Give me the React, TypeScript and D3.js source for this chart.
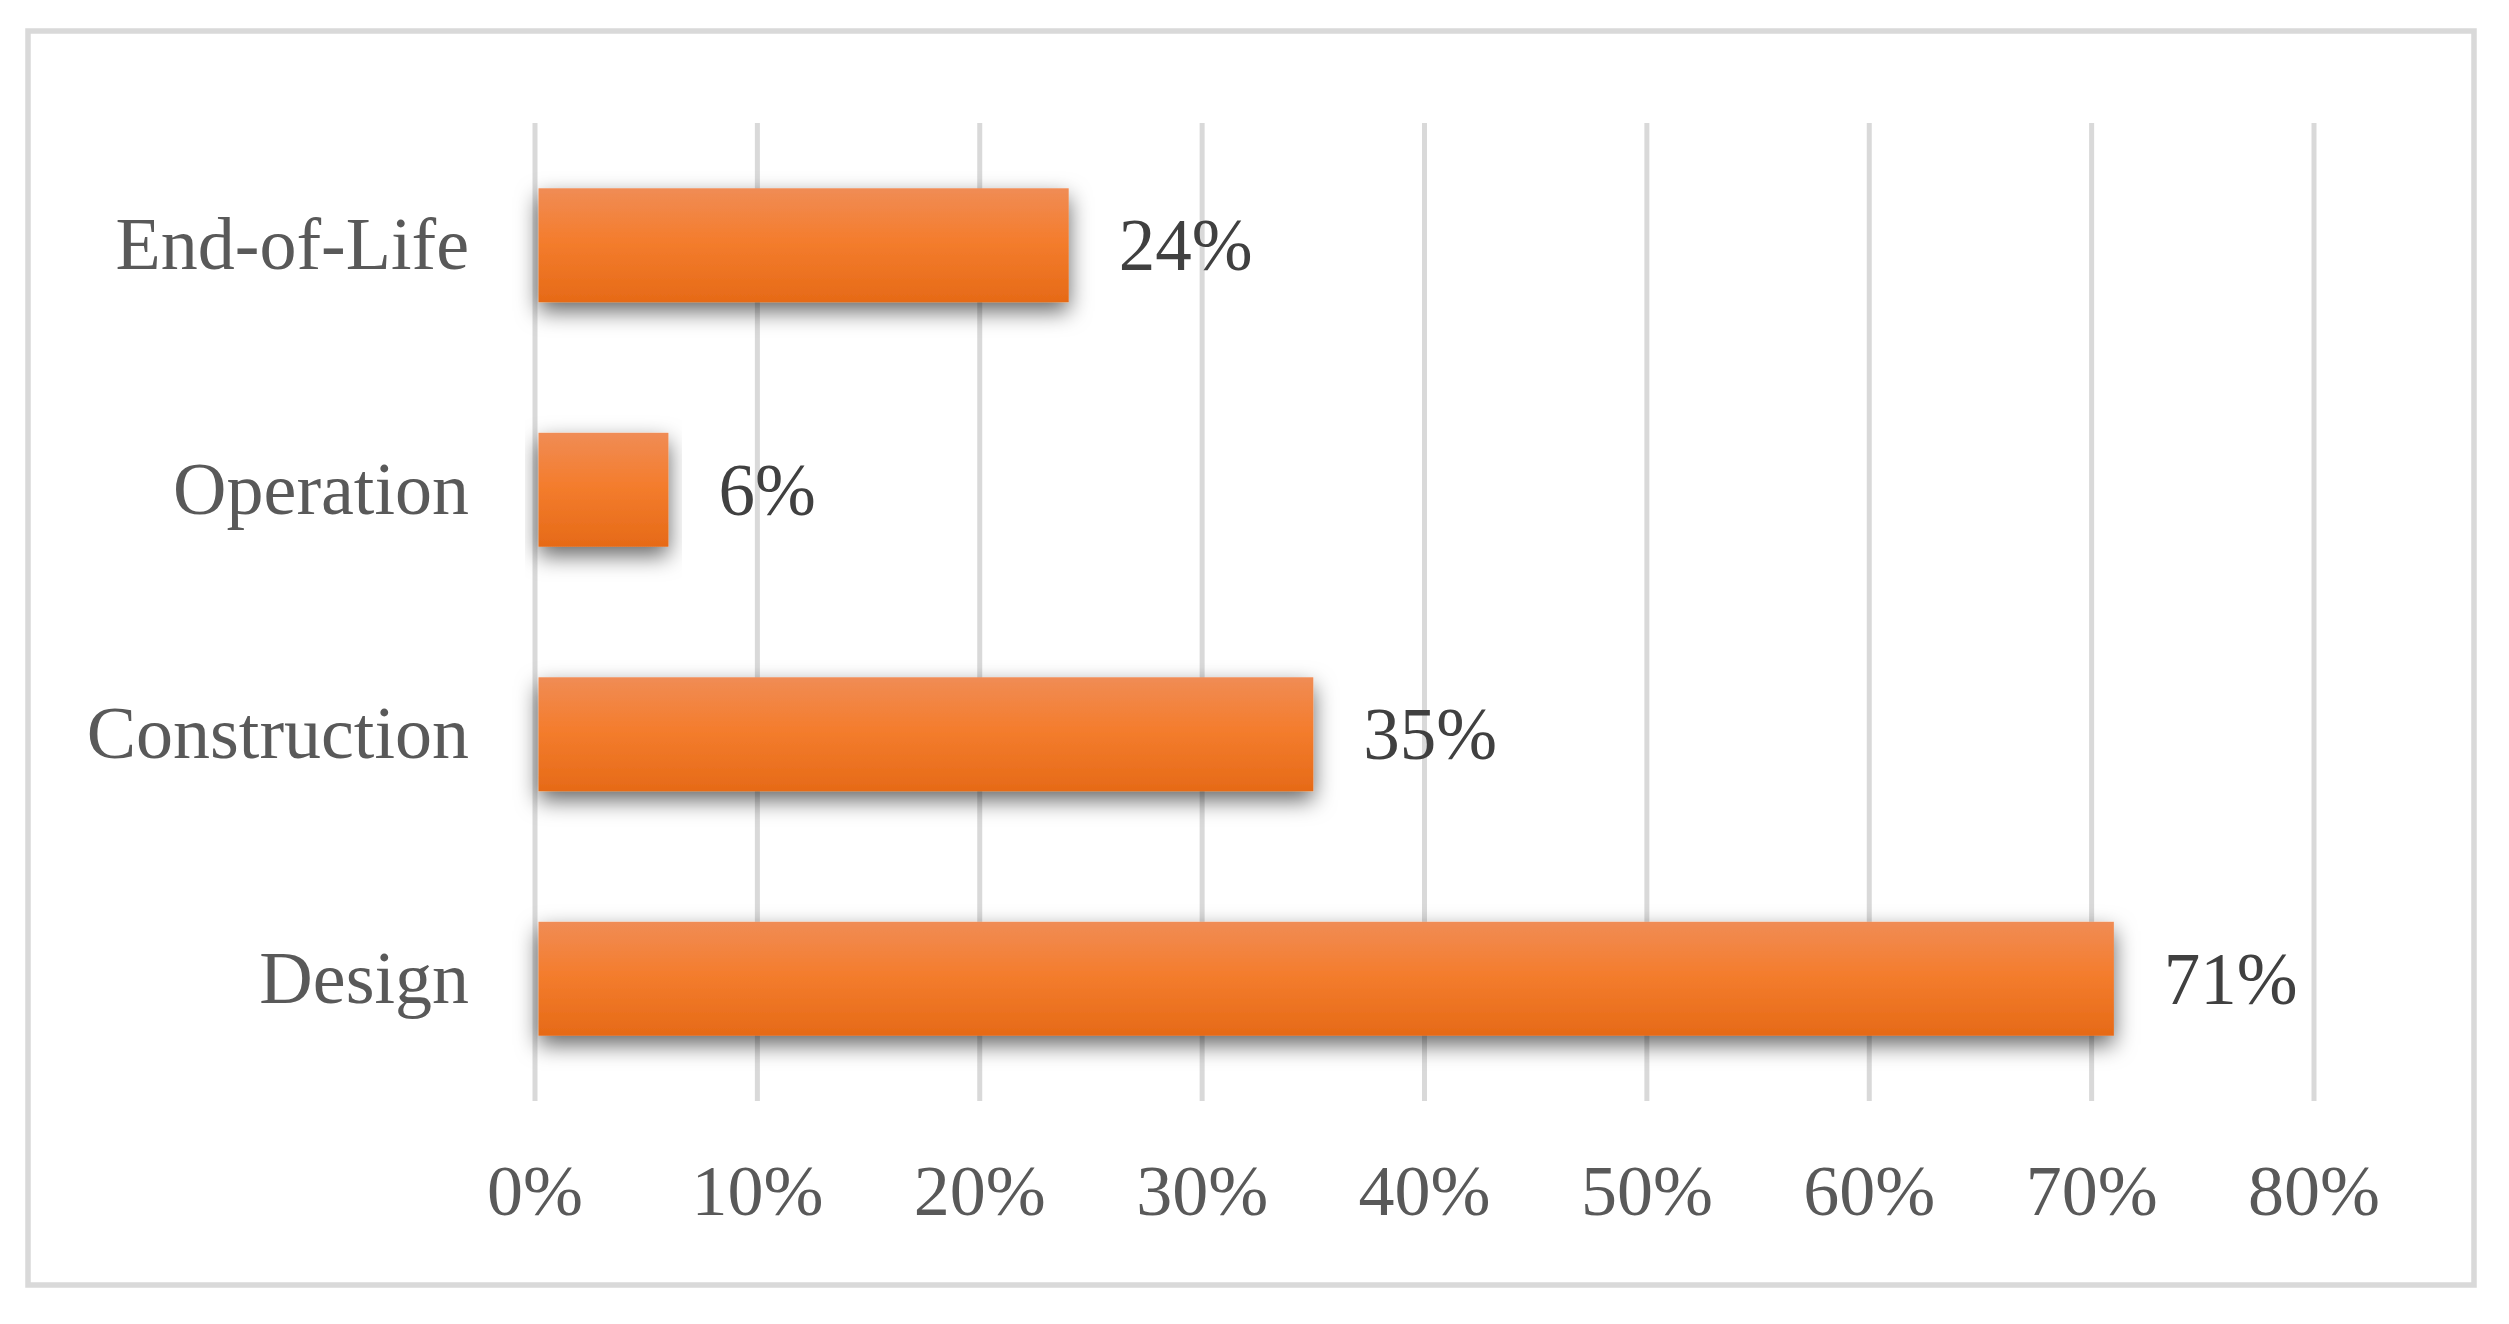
import React from "react";
import * as d3 from "d3";

const categories = ["End-of-Life", "Operation", "Construction", "Design"];
const values = [0.24, 0.06, 0.35, 0.71];
const tickValues = [0, 0.1, 0.2, 0.3, 0.4, 0.5, 0.6, 0.7, 0.8];

const W = 2509;
const H = 1324;
const FONT = '"Liberation Serif", "Times New Roman", serif';

export default function App() {
  const x = d3.scaleLinear().domain([0, 0.8]).range([535, 2314]);
  const y = d3
    .scaleBand<string>()
    .domain(categories)
    .range([123, 1101])
    .paddingInner(0.534)
    .paddingOuter(0.267);
  const fmt = d3.format(".0%");
  const gridW = 5;

  return (
    <div style={{ position: "fixed", left: 0, top: 0, background: "#fff" }}>
      <svg width={W} height={H} viewBox={`0 0 ${W} ${H}`} style={{ display: "block" }}>
        <defs>
          <linearGradient id="barGrad" x1="0" y1="0" x2="0" y2="1">
            <stop offset="0%" stopColor="#f08c55" />
            <stop offset="45%" stopColor="#f47d2e" />
            <stop offset="100%" stopColor="#e66a17" />
          </linearGradient>
          <filter id="shadow" x="-10%" y="-50%" width="120%" height="200%">
            <feDropShadow dx="0" dy="9" stdDeviation="11" floodColor="#000" floodOpacity="0.6" />
          </filter>
        </defs>
        <rect x={0} y={0} width={W} height={H} fill="#fff" />
        <rect x={28} y={31} width={2446} height={1254} fill="#fff" stroke="#d9d9d9" strokeWidth={5.5} />
        {tickValues.map((t) => (
          <line
            key={"g" + t}
            x1={x(t)}
            x2={x(t)}
            y1={123}
            y2={1101}
            stroke="#d9d9d9"
            strokeWidth={gridW}
          />
        ))}
        {categories.map((c, i) => (
          <rect
            key={"b" + c}
            x={x(0) + gridW / 2 + 1}
            y={y(c)!}
            width={x(values[i]) - x(0) - gridW / 2 - 1}
            height={y.bandwidth()}
            fill="url(#barGrad)"
            filter="url(#shadow)"
          />
        ))}
        {categories.map((c, i) => (
          <text
            key={"v" + c}
            x={x(values[i]) + 50}
            y={y(c)! + y.bandwidth() / 2 + 25}
            fontFamily={FONT}
            fontSize={73}
            fill="#404040"
          >
            {fmt(values[i])}
          </text>
        ))}
        {categories.map((c) => (
          <text
            key={"c" + c}
            x={469}
            y={y(c)! + y.bandwidth() / 2 + 24}
            textAnchor="end"
            fontFamily={FONT}
            fontSize={74}
            fill="#595959"
          >
            {c}
          </text>
        ))}
        {tickValues.map((t) => (
          <text
            key={"t" + t}
            x={x(t)}
            y={1215}
            textAnchor="middle"
            fontFamily={FONT}
            fontSize={72}
            fill="#595959"
          >
            {fmt(t)}
          </text>
        ))}
      </svg>
    </div>
  );
}
